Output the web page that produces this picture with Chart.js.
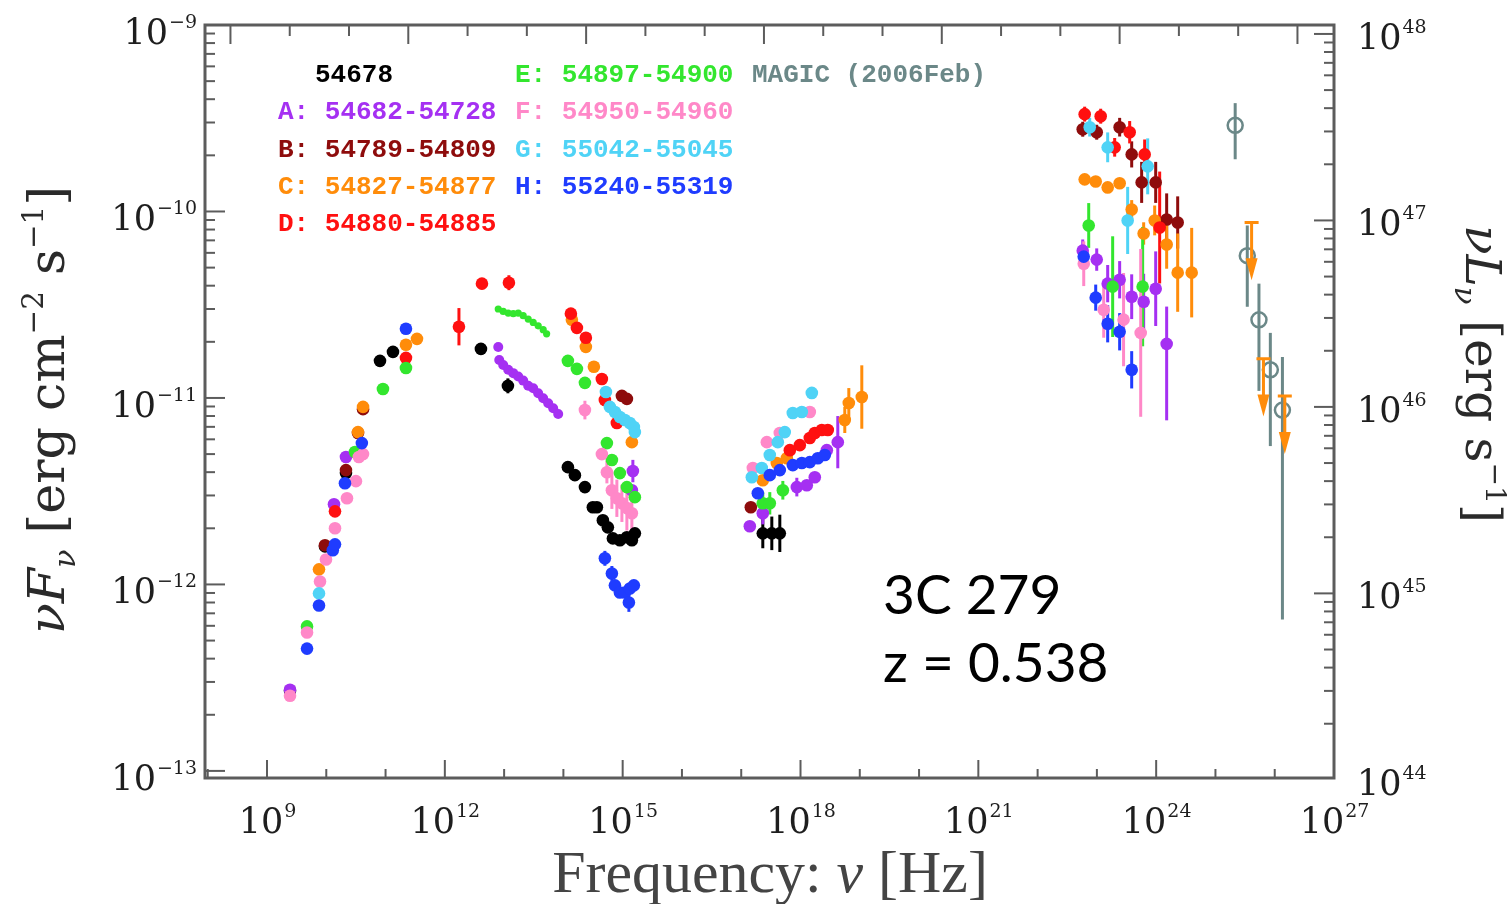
<!DOCTYPE html>
<html>
<head>
<meta charset="utf-8">
<script src="https://cdn.jsdelivr.net/npm/chart.js@4.4.1/dist/chart.umd.min.js"></script>
<style>
  html, body { margin: 0; padding: 0; background: #fff; }
  canvas { display: block; }
</style>
</head>
<body>
<canvas id="sedChart" width="1507" height="904"></canvas>
<script>
// rows: [log10 nu (Hz), log10 nuFnu (erg cm^-2 s^-1), err up (dex), err down (dex, defaults to up)]
var obs54678 = [
  [9.388, -12.570], [9.978, -11.796], [10.332, -11.403], [10.906, -10.801], [11.125, -10.753],
  [12.609, -10.737, 0.03], [13.064, -10.935, 0.04],
  [14.076, -11.371], [14.194, -11.414], [14.363, -11.478], [14.497, -11.586], [14.565, -11.586],
  [14.666, -11.656], [14.750, -11.694], [14.835, -11.753], [14.953, -11.763], [15.071, -11.747],
  [15.155, -11.763], [15.206, -11.726],
  [17.364, -11.726, 0.08], [17.516, -11.726, 0.09], [17.651, -11.726, 0.10]
];
var periodA = [
  [9.388, -12.565], [10.130, -11.570], [10.332, -11.317],
  [15.172, -11.392, 0.06], [15.155, -11.495],
  [17.145, -11.688], [17.364, -11.618, 0.06], [17.938, -11.478, 0.05], [18.106, -11.468],
  [18.241, -11.425], [18.444, -11.280], [18.629, -11.237, 0.14],
  [22.761, -10.210, 0.06], [22.997, -10.258, 0.06], [23.182, -10.387, 0.10], [23.384, -10.366, 0.10],
  [23.587, -10.457, 0.12], [23.789, -10.484, 0.15], [23.992, -10.414, 0.20], [24.177, -10.710, 0.20, 0.41]
];
var spitzerA = [
  [12.901, -10.727], [12.918, -10.796], [12.985, -10.823], [13.069, -10.849], [13.154, -10.867],
  [13.238, -10.885], [13.322, -10.907], [13.406, -10.935], [13.491, -10.948], [13.575, -10.975],
  [13.659, -11.002], [13.744, -11.028], [13.828, -11.055], [13.912, -11.086]
];
var periodB = [
  [9.978, -11.790], [10.332, -11.387], [10.535, -11.188], [10.620, -11.060],
  [14.987, -10.989], [15.071, -11.005],
  [17.162, -11.586],
  [22.761, -9.559, 0.04], [22.997, -9.575, 0.04], [23.384, -9.548, 0.05], [23.587, -9.694, 0.07],
  [23.755, -9.844, 0.11], [23.992, -9.844, 0.11], [24.177, -10.043, 0.14], [24.363, -10.059, 0.14]
];
var periodC = [
  [9.877, -11.919], [10.535, -11.183], [10.620, -11.048], [11.344, -10.715], [11.530, -10.683],
  [14.143, -10.581], [14.379, -10.726], [14.514, -10.833], [15.155, -11.237],
  [17.364, -11.441], [17.600, -11.349], [17.769, -11.323], [18.747, -11.118, 0.07],
  [18.815, -11.027, 0.08], [19.034, -10.995, 0.17],
  [22.794, -9.828], [22.980, -9.839], [23.182, -9.871], [23.384, -9.849], [23.587, -9.989, 0.05],
  [23.789, -10.118, 0.06], [23.975, -10.048, 0.08], [24.177, -10.177, 0.13], [24.363, -10.328, 0.21],
  [24.599, -10.328, 0.24]
];
var upperLimitsC = [[25.61, -10.059], [25.81, -10.790], [26.17, -10.990]];
var periodD = [
  [10.147, -11.608], [11.344, -10.785],
  [12.238, -10.618, 0.10], [12.626, -10.387, 0.03], [13.081, -10.382, 0.04],
  [14.126, -10.548], [14.228, -10.624], [14.379, -10.677], [14.649, -10.898], [14.700, -11.011],
  [14.902, -11.134],
  [17.820, -11.280], [17.988, -11.253], [18.157, -11.215], [18.241, -11.188], [18.359, -11.172],
  [18.460, -11.172],
  [22.794, -9.478, 0.04], [23.064, -9.489, 0.04], [23.300, -9.656, 0.05], [23.553, -9.575, 0.06],
  [23.806, -9.694, 0.08], [24.059, -10.086, 0.30]
];
var periodE = [
  [9.675, -12.225], [10.484, -11.290], [10.956, -10.952], [11.344, -10.839],
  [14.076, -10.801], [14.228, -10.844], [14.363, -10.919],
  [14.734, -11.242], [14.818, -11.333], [14.953, -11.403], [15.071, -11.478], [15.206, -11.532],
  [17.364, -11.565, 0.06], [17.482, -11.565, 0.06], [17.702, -11.495, 0.05],
  [22.862, -10.075, 0.12], [23.266, -10.403, 0.27], [23.772, -10.403, 0.32]
];
var spitzerE = [
  [12.901, -10.523], [12.985, -10.536], [13.069, -10.545], [13.154, -10.548], [13.238, -10.545],
  [13.322, -10.559], [13.406, -10.577], [13.491, -10.595], [13.575, -10.613], [13.659, -10.634],
  [13.717, -10.656]
];
var periodF = [
  [9.388, -12.597], [9.675, -12.258], [9.894, -11.984], [9.995, -11.866], [10.147, -11.699],
  [10.349, -11.538], [10.500, -11.446], [10.550, -11.317], [10.620, -11.301],
  [14.363, -11.065, 0.05], [14.649, -11.301], [14.734, -11.398, 0.06], [14.818, -11.495, 0.10],
  [14.902, -11.538, 0.10], [14.987, -11.565, 0.10], [15.071, -11.591, 0.12], [15.155, -11.618, 0.12],
  [17.196, -11.376], [17.432, -11.237], [17.651, -11.188], [18.157, -11.075],
  [22.778, -10.280, 0.12], [23.115, -10.527, 0.15], [23.450, -10.580, 0.25], [23.739, -10.651, 0.45]
];
var periodG = [
  [9.877, -12.048],
  [14.717, -10.968], [14.784, -11.048], [14.869, -11.075], [14.953, -11.102], [15.037, -11.118],
  [15.121, -11.134], [15.189, -11.156], [15.206, -11.183],
  [17.179, -11.425], [17.347, -11.376], [17.482, -11.306], [17.617, -11.237], [17.735, -11.183],
  [17.870, -11.081], [18.022, -11.075], [18.191, -10.973],
  [22.879, -9.548, 0.05], [23.182, -9.656, 0.08], [23.519, -10.048, 0.18], [23.857, -9.758, 0.15]
];
var periodH = [
  [9.675, -12.344], [9.877, -12.113], [10.110, -11.817], [10.147, -11.785], [10.315, -11.457],
  [10.600, -11.242], [11.344, -10.629],
  [14.700, -11.860, 0.04], [14.818, -11.941, 0.04], [14.869, -12.005], [14.953, -12.043],
  [15.037, -12.043], [15.121, -12.022], [15.189, -12.005], [15.105, -12.097, 0.05],
  [17.280, -11.511], [17.482, -11.414], [17.651, -11.387], [17.870, -11.360], [18.022, -11.349],
  [18.157, -11.344], [18.292, -11.323], [18.410, -11.306],
  [22.778, -10.242, 0.05], [22.980, -10.462, 0.07], [23.182, -10.602, 0.10], [23.384, -10.645, 0.10],
  [23.587, -10.849, 0.10]
];
var magic2006 = [
  [25.333, -9.538, 0.119, 0.182], [25.537, -10.237, 0.162, 0.274], [25.734, -10.581, 0.194, 0.381],
  [25.926, -10.849, 0.198, 0.409], [26.130, -11.065, 0.285, 1.123]
];

var seriesLabels = ['54678', 'A: 54682-54728', 'B: 54789-54809', 'C: 54827-54877', 'D: 54880-54885',
                    'E: 54897-54900', 'F: 54950-54960', 'G: 55042-55045', 'H: 55240-55319'];
var seriesColors = ['#000000', '#a530f2', '#8e0c0c', '#ff8c0a', '#ff1010',
                    '#33e62e', '#ff88c8', '#4fd3f6', '#1f3cff'];
var seriesRows = [obs54678, periodA, periodB, periodC, periodD, periodE, periodF, periodG, periodH];
var magicLabel = 'MAGIC (2006Feb)';
var magicColor = '#6b8888';

var xLabelDecades = [9, 12, 15, 18, 21, 24, 27];
var yLabelDecades = [-13, -12, -11, -10, -9];
var lumLabelDecades = [44, 45, 46, 47, 48];
var lumOffset = 57.048;   // log10(4 pi dL^2) at z = 0.538
var hzPerEv = 2.418e14;   // top axis ticks in eV

function toPoints(rows) {
  return rows.map(function (r) {
    return { x: Math.pow(10, r[0]), y: Math.pow(10, r[1]), up: r[2] || 0, dn: r[3] !== undefined ? r[3] : (r[2] || 0) };
  });
}

var datasets = [];
seriesRows.forEach(function (rows, i) {
  datasets.push({
    label: seriesLabels[i], data: toPoints(rows), order: -i,
    pointRadius: 6.3, pointBorderWidth: 0, backgroundColor: seriesColors[i], errColor: seriesColors[i]
  });
});
datasets.push({ label: 'A IR', data: toPoints(spitzerA), order: -1, pointRadius: 5, pointBorderWidth: 0, backgroundColor: seriesColors[1] });
datasets.push({ label: 'E IR', data: toPoints(spitzerE), order: -5, pointRadius: 3.6, pointBorderWidth: 0, backgroundColor: seriesColors[5] });
datasets.push({
  label: magicLabel, data: toPoints(magic2006), order: -20,
  pointRadius: 7.5, pointBorderWidth: 2.5, borderColor: magicColor, backgroundColor: 'rgba(255,255,255,0)', errColor: magicColor
});
datasets.push({ label: 'C UL', data: toPoints(upperLimitsC), order: -19, pointRadius: 0, upperLimit: true, errColor: seriesColors[3] });

function drawPow(ctx, exp, x, base, align, size) {
  var big = size + 'px "DejaVu Serif"', small = Math.round(size * 0.55) + 'px "DejaVu Serif"';
  var e = String(exp).replace('-', '\u2212');
  ctx.font = big; var w1 = ctx.measureText('10').width;
  ctx.font = small; var w2 = ctx.measureText(e).width;
  var x0 = align === 'right' ? x - w1 - w2 - 1 : align === 'center' ? x - (w1 + w2) / 2 : x;
  ctx.font = big; ctx.fillText('10', x0, base);
  ctx.font = small; ctx.fillText(e, x0 + w1 + 1, base - size * 0.46);
}

function drawRuns(ctx, runs, family, size, x, y, angle, target) {
  var fontOf = function (r, s) { return (r.it ? 'italic ' : '') + (s * (r.s || 1)).toFixed(1) + 'px ' + family; };
  var widthAt = function (s) {
    return runs.reduce(function (w, r) { ctx.font = fontOf(r, s); return w + ctx.measureText(r.t).width; }, 0);
  };
  if (target) size = size * target / widthAt(size);
  var total = widthAt(size);
  ctx.save();
  ctx.translate(x, y); ctx.rotate(angle);
  var cx = -total / 2;
  runs.forEach(function (r) {
    ctx.font = fontOf(r, size);
    ctx.fillText(r.t, cx, (r.dy || 0) * size);
    cx += ctx.measureText(r.t).width;
  });
  ctx.restore();
}

var sedDecor = {
  id: 'sedDecor',
  beforeDatasetsDraw: function (chart) {
    var ctx = chart.ctx, xs = chart.scales.x, ys = chart.scales.y;
    ctx.save();
    ctx.lineWidth = 3;
    chart.data.datasets.slice().sort(function (a, b) { return b.order - a.order; }).forEach(function (ds) {
      if (!ds.errColor || ds.upperLimit) return;
      ctx.strokeStyle = ds.errColor;
      ds.data.forEach(function (p) {
        if (!p.up) return;
        var px = xs.getPixelForValue(p.x);
        ctx.beginPath();
        ctx.moveTo(px, ys.getPixelForValue(p.y * Math.pow(10, p.up)));
        ctx.lineTo(px, ys.getPixelForValue(p.y / Math.pow(10, p.dn)));
        ctx.stroke();
      });
    });
    ctx.restore();
  },
  afterDatasetsDraw: function (chart) {
    var ctx = chart.ctx, xs = chart.scales.x, ys = chart.scales.y;
    ctx.save();
    chart.data.datasets.forEach(function (ds) {
      if (!ds.upperLimit) return;
      ctx.strokeStyle = ds.errColor; ctx.fillStyle = ds.errColor; ctx.lineWidth = 3;
      ds.data.forEach(function (p) {
        var px = xs.getPixelForValue(p.x), py = ys.getPixelForValue(p.y);
        var tip = ys.getPixelForValue(p.y / Math.pow(10, 0.31));
        ctx.beginPath();
        ctx.moveTo(px - 7, py); ctx.lineTo(px + 7, py);
        ctx.moveTo(px, py); ctx.lineTo(px, tip - 18);
        ctx.stroke();
        ctx.beginPath();
        ctx.moveTo(px - 6, tip - 22); ctx.lineTo(px + 6, tip - 22); ctx.lineTo(px, tip);
        ctx.closePath(); ctx.fill();
      });
    });
    ctx.restore();
  },
  afterDraw: function (chart) {
    var ctx = chart.ctx, xs = chart.scales.x, ys = chart.scales.y, a = chart.chartArea;
    ctx.save();
    ctx.strokeStyle = '#5c5c5c';
    ctx.lineWidth = 2;
    var seg = function (x1, y1, x2, y2) { ctx.beginPath(); ctx.moveTo(x1, y1); ctx.lineTo(x2, y2); ctx.stroke(); };
    var d, m, v, p;
    // left: nuFnu, log ticks
    for (d = -14; d <= -9; d++) for (m = 1; m <= 9; m++) {
      v = m * Math.pow(10, d);
      if (v < ys.min || v > ys.max) continue;
      p = ys.getPixelForValue(v); seg(a.left, p, a.left + (m === 1 ? 20 : 10), p);
    }
    // right: nuLnu
    for (d = 43; d <= 48; d++) for (m = 1; m <= 9; m++) {
      v = m * Math.pow(10, d - lumOffset);
      if (v < ys.min || v > ys.max) continue;
      p = ys.getPixelForValue(v); seg(a.right - (m === 1 ? 20 : 10), p, a.right, p);
    }
    // bottom: frequency decades
    for (d = 8; d <= 27; d++) {
      v = Math.pow(10, d);
      if (v < xs.min || v > xs.max) continue;
      p = xs.getPixelForValue(v); seg(p, a.bottom, p, a.bottom - (d % 3 === 0 ? 18 : 9));
    }
    // top: energy decades
    for (d = -7; d <= 13; d++) {
      v = hzPerEv * Math.pow(10, d);
      if (v < xs.min || v > xs.max) continue;
      p = xs.getPixelForValue(v); seg(p, a.top, p, a.top + (d % 3 === 0 ? 19 : 11));
    }
    ctx.lineWidth = 3;
    ctx.strokeRect(a.left, a.top, a.right - a.left, a.bottom - a.top);

    // tick labels
    ctx.fillStyle = '#1e1e1e';
    yLabelDecades.forEach(function (e) { drawPow(ctx, e, 197, ys.getPixelForValue(Math.pow(10, e)) + 19, 'right', 35); });
    xLabelDecades.forEach(function (e) { drawPow(ctx, e, xs.getPixelForValue(Math.pow(10, e)), 833, 'center', 35); });
    lumLabelDecades.forEach(function (e) { drawPow(ctx, e, 1357, ys.getPixelForValue(Math.pow(10, e - lumOffset)) + 15, 'left', 35); });

    // axis titles
    ctx.fillStyle = '#2a2a2a';
    drawRuns(ctx, [
      { t: '\u03BDF', it: true }, { t: '\u03BD', it: true, s: 0.6, dy: 0.22 },
      { t: ' [erg cm' }, { t: '\u22122', s: 0.58, dy: -0.42 }, { t: ' s' }, { t: '\u22121', s: 0.58, dy: -0.42 }, { t: ']' }
    ], '"DejaVu Serif"', 50, 64, 410, -Math.PI / 2, 448);
    drawRuns(ctx, [
      { t: '\u03BDL', it: true }, { t: '\u03BD', it: true, s: 0.6, dy: 0.22 },
      { t: ' [erg s' }, { t: '\u22121', s: 0.58, dy: -0.42 }, { t: ']' }
    ], '"DejaVu Serif"', 50, 1466, 374, Math.PI / 2, 298);
    ctx.fillStyle = '#444';
    drawRuns(ctx, [{ t: 'Frequency: ' }, { t: '\u03BD', it: true }, { t: ' [Hz]' }],
      '"Liberation Serif"', 56, 770, 892, 0, 436);

    // legend
    ctx.font = 'bold 26px "Liberation Mono"';
    var cols = [278, 278, 278, 278, 278, 515, 515, 515, 515];
    var rows = [82, 119, 157, 194, 231, 82, 119, 157, 194];
    seriesLabels.forEach(function (t, i) {
      ctx.fillStyle = seriesColors[i];
      ctx.fillText(t, i === 0 ? 315 : cols[i], rows[i]);
    });
    ctx.fillStyle = magicColor;
    ctx.fillText(magicLabel, 752, 82);

    // source annotation
    ctx.fillStyle = '#000';
    ctx.font = '55px Lato';
    ctx.fillText('3C 279', 883, 614);
    ctx.fillText('z = 0.538', 883, 682);
    ctx.restore();
  }
};

new Chart(document.getElementById('sedChart'), {
  type: 'scatter',
  data: { datasets: datasets },
  options: {
    responsive: false,
    animation: false,
    events: [],
    layout: { padding: { left: 205, right: 173, top: 25, bottom: 126 } },
    plugins: { legend: { display: false }, tooltip: { enabled: false } },
    scales: {
      x: { type: 'logarithmic', display: false, min: Math.pow(10, 7.954), max: 1e27 },
      y: { type: 'logarithmic', display: false, min: Math.pow(10, -13.038), max: 1e-9 }
    }
  },
  plugins: [sedDecor]
});
</script>
</body>
</html>
